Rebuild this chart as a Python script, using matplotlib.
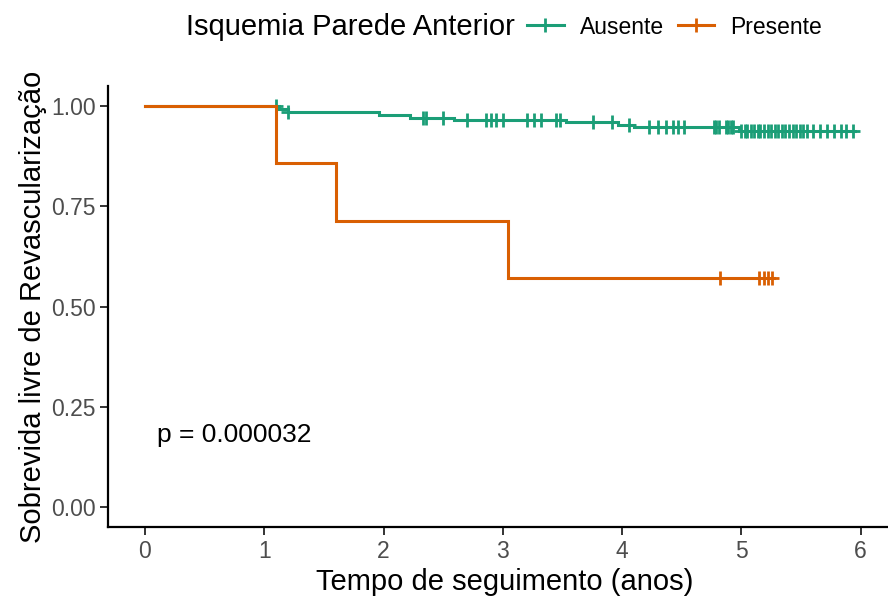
import numpy as np
import matplotlib.pyplot as plt
from matplotlib.lines import Line2D

plt.rcParams['font.family'] = ['Liberation Sans', 'DejaVu Sans']

# Kaplan-Meier steps: time of each step and survival after it
aus_t = [0.0, 1.12, 1.20, 1.96, 2.22, 2.59, 3.53, 3.97, 4.10, 4.98, 5.95]
aus_s = [1.0, 0.993, 0.986, 0.978, 0.971, 0.965, 0.959, 0.953, 0.947, 0.937, 0.937]
aus_cens = [1.10, 1.20, 2.33, 2.36, 2.50, 2.70, 2.86, 2.90, 2.94, 3.00, 3.20,
            3.26, 3.32, 3.45, 3.48, 3.76, 3.92, 4.06, 4.23, 4.30, 4.37, 4.43,
            4.47, 4.52, 4.77, 4.79, 4.81, 4.87, 4.89, 4.91, 4.93,
            5.00, 5.03, 5.05, 5.08, 5.11, 5.14, 5.16, 5.19, 5.22, 5.25, 5.28,
            5.31, 5.34, 5.37, 5.40, 5.43, 5.46, 5.49, 5.52, 5.55,
            5.60, 5.66, 5.72, 5.78, 5.84, 5.88, 5.94]

pre_t = [0.0, 1.10, 1.60, 3.04, 5.27]
pre_s = [1.0, 0.857, 0.714, 0.571, 0.571]
pre_cens = [4.82, 5.15, 5.19, 5.22, 5.26]

labels = ['Ausente', 'Presente']
colors = ['#1B9E77', '#D95F02']
p_text = 'p = 0.000032'

fig = plt.figure(figsize=(8.88, 5.97), dpi=100)
ax = fig.add_axes([108 / 888, 70 / 597, 780 / 888, 441 / 597])


def surv_at(t, times, surv):
    i = np.searchsorted(times, t, side='right') - 1
    return np.asarray(surv)[i]


for times, surv, cens, col in [(aus_t, aus_s, aus_cens, colors[0]),
                               (pre_t, pre_s, pre_cens, colors[1])]:
    ax.step(times, surv, where='post', color=col, lw=2.2, solid_joinstyle='miter')
    ax.plot(cens, surv_at(cens, times, surv), ls='none', marker='+',
            ms=10, mew=2.0, color=col)

ax.text(0.1, 0.18, p_text, fontsize=19, va='center', ha='left')

ax.set_xlim(-0.31, 6.23)
ax.set_ylim(-0.05, 1.05)
ax.set_xticks(range(7))
ax.set_yticks([0, 0.25, 0.5, 0.75, 1.0])
ax.set_yticklabels(['0.00', '0.25', '0.50', '0.75', '1.00'])
ax.tick_params(labelsize=16.5, labelcolor='#4D4D4D', length=6, width=1.4,
               color='#333333', pad=3)
for side in ['top', 'right']:
    ax.spines[side].set_visible(False)
for side in ['left', 'bottom']:
    ax.spines[side].set_linewidth(1.6)

ax.set_xlabel('Tempo de seguimento (anos)', fontsize=21, labelpad=4)
ax.set_ylabel('Sobrevida livre de Revascularização', fontsize=21, labelpad=3)
ax.xaxis.label.set_x(0.509)

fig.text(186 / 888, 1 - 27 / 597, 'Isquemia Parede Anterior', fontsize=21,
         va='center', ha='left')
handles = [Line2D([], [], color=c, lw=2.2, marker='+', ms=10, mew=2.0) for c in colors]
fig.legend(handles, labels, loc='center left', ncol=2, frameon=False,
           bbox_to_anchor=(527 / 888, 1 - 27 / 597), fontsize=16.5,
           handlelength=1.6, handletextpad=0.7, columnspacing=0.6,
           borderpad=0, borderaxespad=0)

fig.savefig('out.png', dpi=100)
